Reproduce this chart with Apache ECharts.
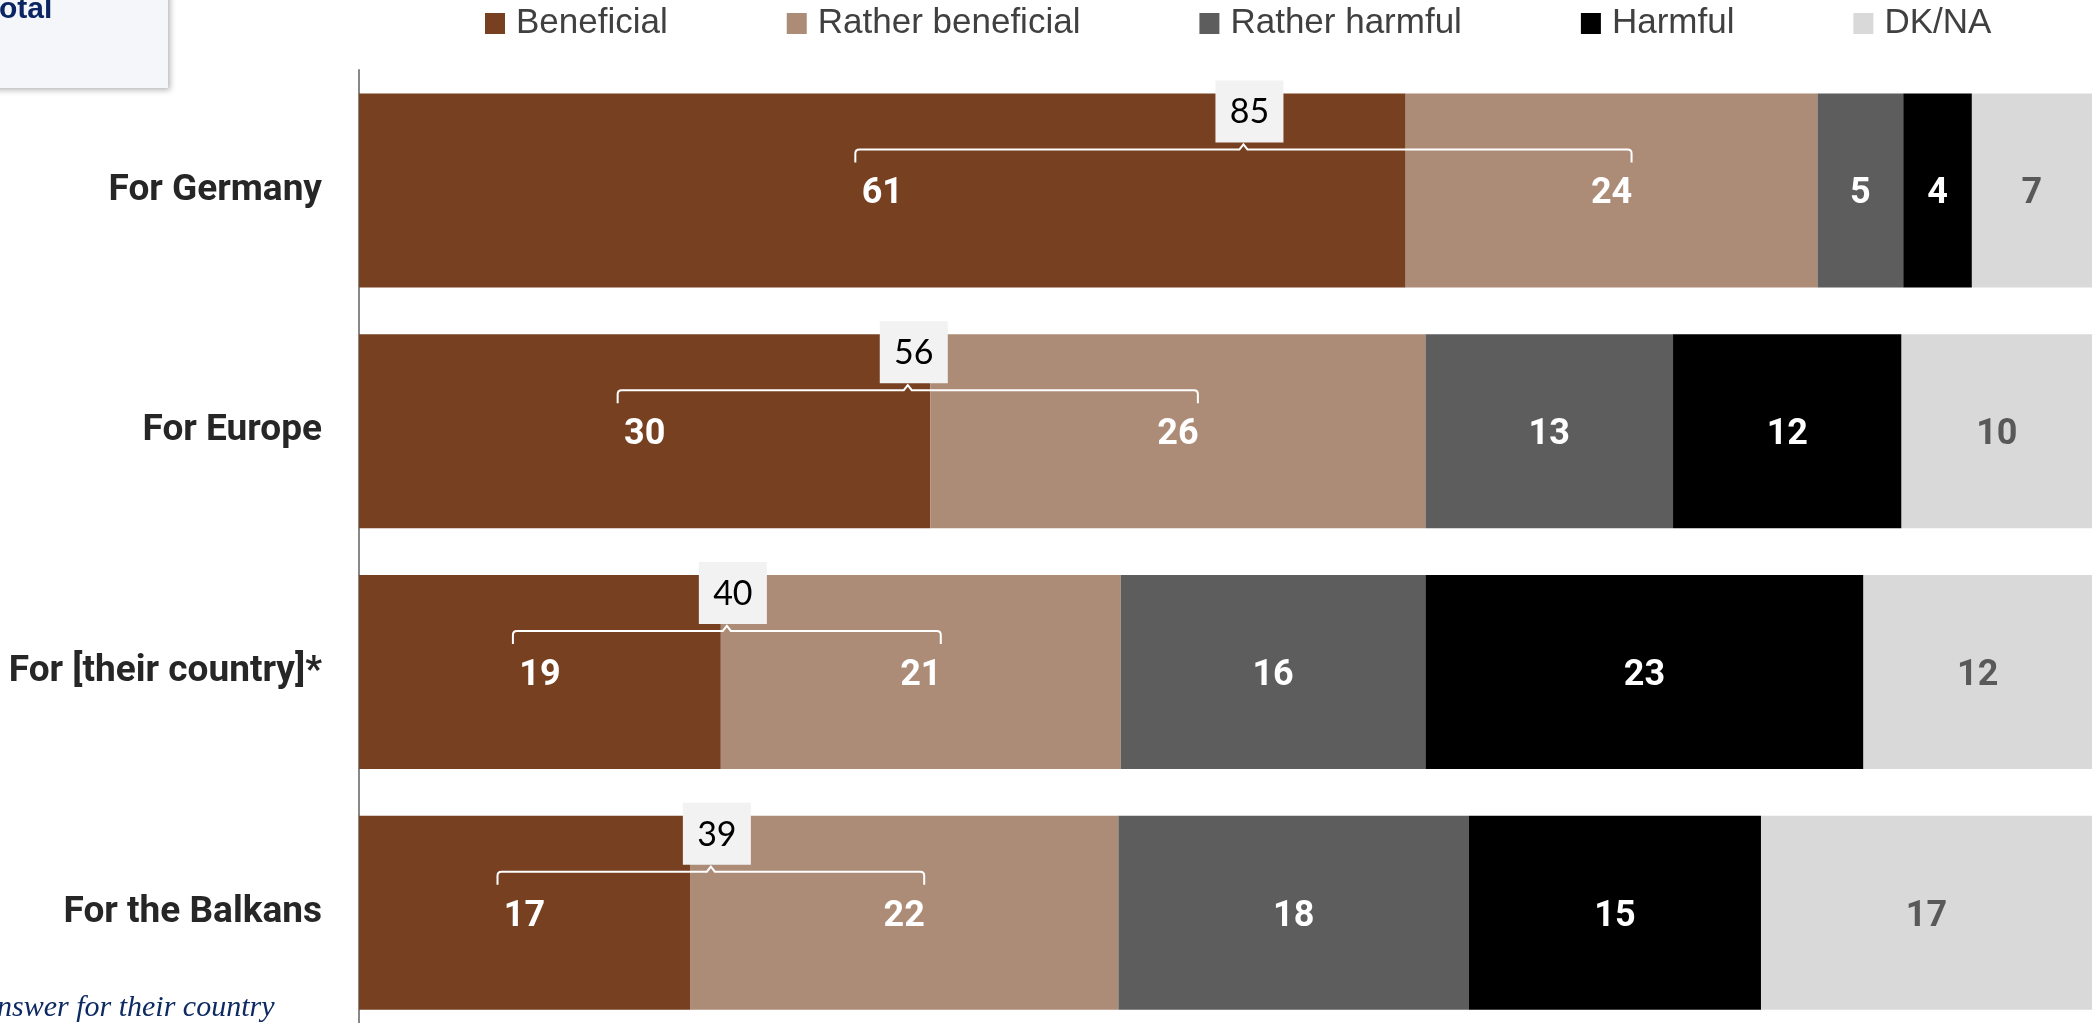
<!DOCTYPE html>
<html>
<head>
<meta charset="utf-8">
<script src="https://cdn.jsdelivr.net/npm/echarts@6/dist/echarts.min.js"></script>
<style>
html,body{margin:0;padding:0;background:#fff;}
#chart{width:2100px;height:1023px;}
</style>
</head>
<body>
<div id="chart"></div>
<script>
const categories = ['For Germany', 'For Europe', 'For [their country]*', 'For the Balkans'];
const seriesNames = ['Beneficial', 'Rather beneficial', 'Rather harmful', 'Harmful', 'DK/NA'];
const beneficial = [61, 30, 19, 17];
const ratherBeneficial = [24, 26, 21, 22];
const ratherHarmful = [5, 13, 16, 18];
const harmful = [4, 12, 23, 15];
const dkna = [7, 10, 12, 17];

const colors = ['#774121', '#ad8c77', '#5d5d5d', '#000000', '#d9d9d9'];
const labelColors = ['#ffffff', '#ffffff', '#ffffff', '#ffffff', '#595959'];
const NARROW = '"Liberation Sans Narrow", "Arial Narrow", Roboto, sans-serif';

const rows = [beneficial, ratherBeneficial, ratherHarmful, harmful, dkna];
const totals = categories.map((c, i) => rows.reduce((s, r) => s + r[i], 0));
const BAR_H = 194;

const barSeries = rows.map((arr, si) => ({
  name: seriesNames[si],
  type: 'bar',
  stack: 'all',
  barWidth: BAR_H,
  itemStyle: { color: colors[si] },
  label: {
    show: true,
    position: 'inside',
    offset: [0, 4],
    color: labelColors[si],
    fontFamily: NARROW,
    fontWeight: 'bold',
    fontSize: 36,
    formatter: p => String(arr[p.dataIndex])
  },
  emphasis: { disabled: true },
  data: arr.map((v, i) => v / totals[i])
}));

const bracketSeries = {
  type: 'custom',
  name: 'brackets',
  clip: false,
  z: 10,
  silent: true,
  data: categories.map((c, i) => [i]),
  renderItem: function (params, api) {
    const i = api.value(0);
    const b = beneficial[i], rb = ratherBeneficial[i], t = totals[i];
    const p1 = api.coord([b / 2 / t, i]);
    const p2 = api.coord([(b + rb / 2) / t, i]);
    const barTop = p1[1] - BAR_H / 2;
    const left = p1[0] - 27;
    const right = p2[0] + 20;
    const mid = (left + right) / 2;
    const ly = barTop + 56;
    const path =
      'M' + left + ',' + (ly + 13) + ' L' + left + ',' + (ly + 4) +
      ' Q' + left + ',' + ly + ' ' + (left + 4) + ',' + ly +
      ' L' + (mid - 4) + ',' + ly + ' L' + mid + ',' + (ly - 5) +
      ' L' + (mid + 4) + ',' + ly + ' L' + (right - 4) + ',' + ly +
      ' Q' + right + ',' + ly + ' ' + right + ',' + (ly + 4) +
      ' L' + right + ',' + (ly + 13);
    const boxW = 68, boxH = 62;
    const boxBottom = ly - 7;
    return {
      type: 'group',
      children: [
        { type: 'path', shape: { pathData: path }, style: { stroke: '#ffffff', lineWidth: 2, fill: null } },
        { type: 'rect', shape: { x: mid + 6 - boxW / 2, y: boxBottom - boxH, width: boxW, height: boxH }, style: { fill: '#f2f2f2' } },
        { type: 'text', style: { text: String(b + rb), x: mid + 6, y: boxBottom - boxH / 2 + 1, align: 'center', verticalAlign: 'middle', fill: '#000000', font: '34px Lato, "Open Sans", sans-serif' } }
      ]
    };
  }
};

const chart = echarts.init(document.getElementById('chart'));
chart.setOption({
  animation: false,
  backgroundColor: '#ffffff',
  legend: {
    data: seriesNames,
    left: 485,
    top: 6,
    padding: 0,
    itemWidth: 20,
    itemHeight: 21,
    itemGap: 119,
    icon: 'rect',
    textStyle: { fontSize: 35, color: '#404040', fontFamily: '"Liberation Sans", Arial, sans-serif', padding: [0, 0, 0, 6] },
    selectedMode: false
  },
  grid: { left: 359, right: 8, top: 70, height: 963, containLabel: false, outerBoundsMode: 'none' },
  xAxis: { type: 'value', min: 0, max: 1, show: false },
  yAxis: {
    type: 'category',
    inverse: true,
    data: categories,
    axisLine: { show: true, lineStyle: { color: '#888888', width: 2 } },
    axisTick: { show: false },
    axisLabel: { margin: 37, fontSize: 37, fontWeight: 'bold', color: '#262626', fontFamily: NARROW, lineHeight: 37, padding: [10, 0, 0, 0] }
  },
  graphic: [
    { type: 'rect', shape: { x: -12, y: -12, width: 180, height: 100 }, style: { fill: '#f5f6fa', shadowBlur: 6, shadowColor: 'rgba(0,0,0,0.3)', shadowOffsetX: 2, shadowOffsetY: 2 }, z: 100 },
    { type: 'text', x: -1, y: -5, style: { text: 'otal', fill: '#0b2563', font: 'bold 30px "Liberation Sans", Arial, sans-serif', align: 'left', verticalAlign: 'top' }, z: 101 },
    { type: 'text', x: -3, y: 1023, style: { text: 'nswer for their country', fill: '#0d2a63', font: 'italic 30px "Liberation Serif", serif', align: 'left', verticalAlign: 'bottom' }, z: 101 }
  ],
  series: barSeries.concat([bracketSeries])
});
</script>
</body>
</html>
